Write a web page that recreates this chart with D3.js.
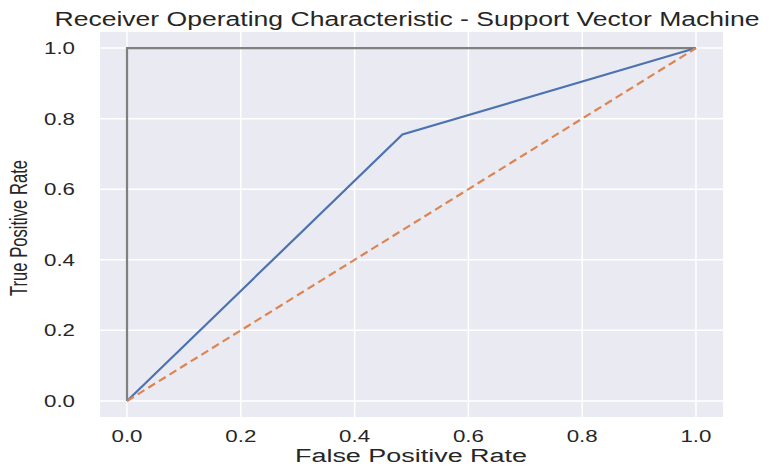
<!DOCTYPE html>
<html>
<head>
<meta charset="utf-8">
<script src="https://cdn.jsdelivr.net/npm/d3@7"></script>
<style>
  body { margin: 0; background: #fff; }
  text { font-family: "Liberation Sans", Arial, sans-serif; fill: #262626; }
</style>
</head>
<body>
<svg id="chart" width="769" height="467"></svg>
<script>
// ROC data
const fpr = [0, 0.484, 1];
const tpr = [0, 0.755, 1];
const chanceX = [0, 1];
const chanceY = [0, 1];
const perfectX = [0, 0, 1];
const perfectY = [0, 1, 1];
const tickValues = [0, 0.2, 0.4, 0.6, 0.8, 1.0];

const svg = d3.select("#chart");

// plot frame (seaborn darkgrid look)
const frame = { left: 100, right: 723, top: 32, bottom: 417 };

const x = d3.scaleLinear().domain([-0.0475, 1.0475]).range([frame.left, frame.right]);
const y = d3.scaleLinear().domain([-0.0455, 1.0455]).range([frame.bottom, frame.top]);

svg.append("rect")
    .attr("x", frame.left)
    .attr("y", frame.top)
    .attr("width", frame.right - frame.left)
    .attr("height", frame.bottom - frame.top)
    .attr("fill", "#EAEAF2");

// grid lines
svg.append("g")
    .selectAll("line")
    .data(tickValues)
    .join("line")
    .attr("x1", d => x(d)).attr("x2", d => x(d))
    .attr("y1", frame.top).attr("y2", frame.bottom)
    .attr("stroke", "#fff").attr("stroke-width", 1.5);

svg.append("g")
    .selectAll("line")
    .data(tickValues)
    .join("line")
    .attr("y1", d => y(d)).attr("y2", d => y(d))
    .attr("x1", frame.left).attr("x2", frame.right)
    .attr("stroke", "#fff").attr("stroke-width", 1.5);

// tick labels (text in the picture is stretched sideways, hence textLength)
svg.append("g")
    .selectAll("text")
    .data(tickValues)
    .join("text")
    .attr("x", d => x(d))
    .attr("y", 442)
    .attr("text-anchor", "middle")
    .attr("font-size", 16)
    .attr("textLength", 31)
    .attr("lengthAdjust", "spacingAndGlyphs")
    .text(d => d3.format(".1f")(d));

svg.append("g")
    .selectAll("text")
    .data(tickValues)
    .join("text")
    .attr("x", 75)
    .attr("y", d => y(d) + 6)
    .attr("text-anchor", "end")
    .attr("font-size", 16.5)
    .attr("textLength", 31)
    .attr("lengthAdjust", "spacingAndGlyphs")
    .text(d => d3.format(".1f")(d));

const line = d3.line()
    .x(d => x(d[0]))
    .y(d => y(d[1]));

// perfect classifier reference
svg.append("path")
    .attr("d", line(d3.zip(perfectX, perfectY)))
    .attr("fill", "none")
    .attr("stroke", "#808080")
    .attr("stroke-width", 2.2);

// SVM ROC curve
svg.append("path")
    .attr("d", line(d3.zip(fpr, tpr)))
    .attr("fill", "none")
    .attr("stroke", "#4C72B0")
    .attr("stroke-width", 2.2);

// chance diagonal
svg.append("path")
    .attr("d", line(d3.zip(chanceX, chanceY)))
    .attr("fill", "none")
    .attr("stroke", "#DD8452")
    .attr("stroke-width", 2.2)
    .attr("stroke-dasharray", "8,4.5");

// title and axis labels
svg.append("text")
    .attr("x", 407)
    .attr("y", 26)
    .attr("text-anchor", "middle")
    .attr("font-size", 20)
    .attr("textLength", 705)
    .attr("lengthAdjust", "spacingAndGlyphs")
    .text("Receiver Operating Characteristic - Support Vector Machine");

svg.append("text")
    .attr("x", 411)
    .attr("y", 462)
    .attr("text-anchor", "middle")
    .attr("font-size", 18)
    .attr("textLength", 232)
    .attr("lengthAdjust", "spacingAndGlyphs")
    .text("False Positive Rate");

svg.append("text")
    .attr("transform", "translate(27,228) rotate(-90)")
    .attr("text-anchor", "middle")
    .attr("font-size", 23)
    .attr("textLength", 136)
    .attr("lengthAdjust", "spacingAndGlyphs")
    .text("True Positive Rate");
</script>
</body>
</html>
